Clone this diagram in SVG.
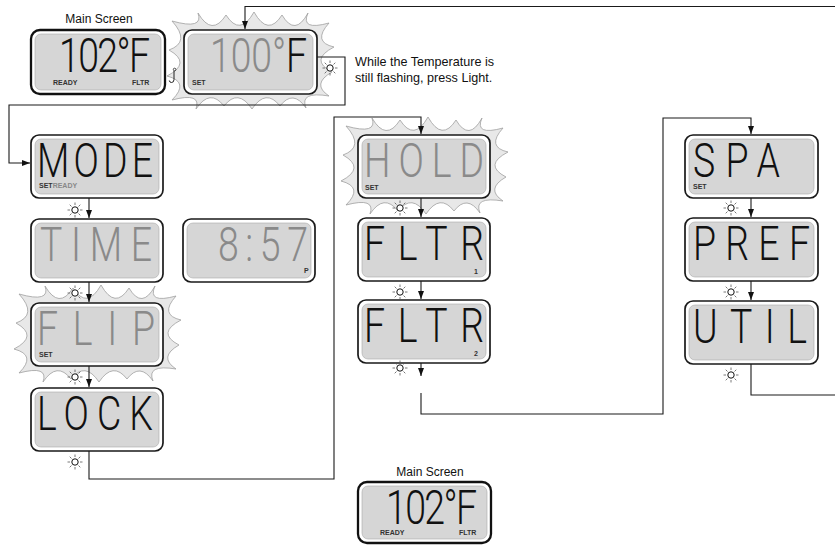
<svg xmlns="http://www.w3.org/2000/svg" xmlns:xlink="http://www.w3.org/1999/xlink" width="835" height="545" viewBox="0 0 835 545">
<style>
.lcd-o{fill:#fff;stroke:#1a1a1a;stroke-width:1.7}
.lcd-t{fill:#fff;stroke:#111;stroke-width:2.3}
.lcd-i{fill:#d6d6d6;stroke:#aaa;stroke-width:0.6}
.seg{font-family:Roboto,Lato,'Open Sans','DejaVu Sans',sans-serif;font-weight:300;font-size:48px;fill:#111}
.dim{fill:#8a8a8a}
.tag{font-family:'Liberation Sans',Arial,sans-serif;font-weight:bold;font-size:7px;fill:#333}
.lbl{font-family:'Liberation Sans',Arial,sans-serif;font-size:12px;fill:#111}
.note{font-family:'Liberation Sans',Arial,sans-serif;font-size:12.6px;fill:#111}
.burst{fill:#e8e8e8;stroke:#a0a0a0;stroke-width:0.8}
.wire{fill:none;stroke:#1a1a1a;stroke-width:1.1}
</style>
<defs>
<marker id="ah" markerUnits="userSpaceOnUse" markerWidth="8" markerHeight="6" refX="8" refY="3" orient="auto">
<path d="M0,0 L8,3 L0,6 z" fill="#111"/>
</marker>
<path id="burst" class="burst" d="M-12,-9 Q20,0 14,-17 Q28,7 42,-15 Q56,7 70,-18 Q84,7 98,-15 Q111,7 124,-17 Q116,1 145,-7 Q128,12 150,17 Q125,30 148,42 Q127,54 145,66 Q115,61 122,78 Q109,59 96,76 Q82,58 68,79 Q54,58 40,76 Q26,58 12,79 Q18,62 -12,70 Q6,52 -17,46 Q8,33 -15,20 Q7,12 -12,-9 Z"/>
<g id="sun">
<circle r="3.2" fill="#fff" stroke="#111" stroke-width="1"/>
<g stroke="#555" stroke-width="0.8">
<line x1="0" y1="-5" x2="0" y2="-7.5"/><line x1="0" y1="5" x2="0" y2="7.5"/>
<line x1="5" y1="0" x2="7.5" y2="0"/><line x1="-5" y1="0" x2="-7.5" y2="0"/>
<line x1="3.5" y1="-3.5" x2="5.3" y2="-5.3"/><line x1="-3.5" y1="-3.5" x2="-5.3" y2="-5.3"/>
<line x1="3.5" y1="3.5" x2="5.3" y2="5.3"/><line x1="-3.5" y1="3.5" x2="-5.3" y2="5.3"/>
</g>
</g>
</defs>

<g id="n-main-top" transform="translate(31,30)">
<text class="lbl" x="68" y="-7" text-anchor="middle">Main Screen</text>
<rect class="lcd-t" width="134" height="64" rx="9"/>
<rect class="lcd-i" x="4" y="4" width="126" height="56" rx="6"/>
<text class="seg" transform="translate(28,42) scale(0.78,1)" textLength="116.7" lengthAdjust="spacing">102°F</text>
<text class="tag" x="22" y="55">READY</text>
<text class="tag" x="101" y="55">FLTR</text>
</g>

<g id="n-temp-set" transform="translate(184,30)">
<use xlink:href="#burst"/>
<rect class="lcd-o" width="133" height="64" rx="8"/>
<rect class="lcd-i" x="4" y="4" width="125" height="56" rx="6"/>
<text class="seg" transform="translate(26,42) scale(0.78,1)" textLength="124.4" lengthAdjust="spacing"><tspan class="dim">100°</tspan>F</text>
<text class="tag" x="8" y="55">SET</text>
</g>

<g id="n-mode" transform="translate(31,135)">
<rect class="lcd-o" width="132" height="63" rx="8"/>
<rect class="lcd-i" x="4" y="4" width="124" height="55" rx="6"/>
<text class="seg" transform="translate(6,42) scale(0.78,1)" textLength="148.7" lengthAdjust="spacing">MODE</text>
<text class="tag" x="8" y="53">SET<tspan fill="#888">READY</tspan></text>
</g>

<g id="n-time" transform="translate(31,219)">
<rect class="lcd-o" width="132" height="63" rx="8"/>
<rect class="lcd-i" x="4" y="4" width="124" height="55" rx="6"/>
<text class="seg dim" transform="translate(9,42) scale(0.78,1)" textLength="143.6" lengthAdjust="spacing">TIME</text>
</g>

<g id="n-clock" transform="translate(183,219)">
<rect class="lcd-o" width="132" height="63" rx="8"/>
<rect class="lcd-i" x="4" y="4" width="124" height="55" rx="6"/>
<text class="seg dim" transform="translate(35,42) scale(0.78,1)" textLength="115.4" lengthAdjust="spacing">8:57</text>
<text class="tag" x="121" y="54" font-size="6" fill="#888">P</text>
</g>

<g id="n-flip" transform="translate(31,303)">
<use xlink:href="#burst"/>
<rect class="lcd-o" width="132" height="63" rx="8"/>
<rect class="lcd-i" x="4" y="4" width="124" height="55" rx="6"/>
<text class="seg dim" transform="translate(6,42) scale(0.78,1)" textLength="151.3" lengthAdjust="spacing">FLIP</text>
<text class="tag" x="8" y="54">SET</text>
</g>

<g id="n-lock" transform="translate(31,388)">
<rect class="lcd-o" width="132" height="63" rx="8"/>
<rect class="lcd-i" x="4" y="4" width="124" height="55" rx="6"/>
<text class="seg" transform="translate(6,42) scale(0.78,1)" textLength="148.7" lengthAdjust="spacing">LOCK</text>
</g>

<g id="n-hold" transform="translate(358,135)">
<use xlink:href="#burst"/>
<rect class="lcd-o" width="132" height="63" rx="8"/>
<rect class="lcd-i" x="4" y="4" width="124" height="55" rx="6"/>
<text class="seg dim" transform="translate(6,42) scale(0.78,1)" textLength="153.8" lengthAdjust="spacing">HOLD</text>
<text class="tag" x="7" y="55">SET</text>
</g>

<g id="n-fltr1" transform="translate(358,218)">
<rect class="lcd-o" width="132" height="63" rx="8"/>
<rect class="lcd-i" x="4" y="4" width="124" height="55" rx="6"/>
<text class="seg" transform="translate(6,42) scale(0.78,1)" textLength="153.8" lengthAdjust="spacing">FLTR</text>
<text class="tag" x="116" y="56" font-size="6">1</text>
</g>

<g id="n-fltr2" transform="translate(358,300)">
<rect class="lcd-o" width="132" height="63" rx="8"/>
<rect class="lcd-i" x="4" y="4" width="124" height="55" rx="6"/>
<text class="seg" transform="translate(6,42) scale(0.78,1)" textLength="153.8" lengthAdjust="spacing">FLTR</text>
<text class="tag" x="116" y="56" font-size="6">2</text>
</g>

<g id="n-spa" transform="translate(685,135)">
<rect class="lcd-o" width="133" height="63" rx="8"/>
<rect class="lcd-i" x="4" y="4" width="125" height="55" rx="6"/>
<text class="seg" transform="translate(8,42) scale(0.78,1)" textLength="111.5" lengthAdjust="spacing">SPA</text>
<text class="tag" x="8" y="54">SET</text>
</g>

<g id="n-pref" transform="translate(685,218)">
<rect class="lcd-o" width="133" height="63" rx="8"/>
<rect class="lcd-i" x="4" y="4" width="125" height="55" rx="6"/>
<text class="seg" transform="translate(8,42) scale(0.78,1)" textLength="150" lengthAdjust="spacing">PREF</text>
</g>

<g id="n-util" transform="translate(685,301)">
<rect class="lcd-o" width="133" height="63" rx="8"/>
<rect class="lcd-i" x="4" y="4" width="125" height="55" rx="6"/>
<text class="seg" transform="translate(8,42) scale(0.78,1)" textLength="146.2" lengthAdjust="spacing">UTIL</text>
</g>

<g id="n-main-bottom" transform="translate(358,482)">
<text class="lbl" x="72" y="-6" text-anchor="middle">Main Screen</text>
<rect class="lcd-t" width="133" height="61" rx="9"/>
<rect class="lcd-i" x="4" y="4" width="125" height="53" rx="6"/>
<text class="seg" transform="translate(28,42) scale(0.78,1)" textLength="116.7" lengthAdjust="spacing">102°F</text>
<text class="tag" x="22" y="53">READY</text>
<text class="tag" x="101" y="53">FLTR</text>
</g>

<g id="connectors">
<path class="wire" d="M835,6.5 H245 V29" marker-end="url(#ah)"/>
<path class="wire" d="M317,57 H345 V105 H9 V163 H30" marker-end="url(#ah)"/>
<path class="wire" d="M89,198 V218" marker-end="url(#ah)"/>
<path class="wire" d="M89,282 V302" marker-end="url(#ah)"/>
<path class="wire" d="M89,366 V387" marker-end="url(#ah)"/>
<path class="wire" d="M89,451 V479 H334 V117 H421 V134" marker-end="url(#ah)"/>
<path class="wire" d="M421,198 V217" marker-end="url(#ah)"/>
<path class="wire" d="M421,281 V299" marker-end="url(#ah)"/>
<path class="wire" d="M421,363 V376" marker-end="url(#ah)"/>
<path class="wire" d="M421,393 V414 H663 V118 H751 V134" marker-end="url(#ah)"/>
<path class="wire" d="M751,198 V217" marker-end="url(#ah)"/>
<path class="wire" d="M751,281 V300" marker-end="url(#ah)"/>
<path class="wire" d="M751,364 V395 H835"/>
</g>

<g id="buttons">
<path d="M174,71 V79.5 Q174,82.5 171.5,82.5 Q169.5,82.5 169.3,80.5" fill="none" stroke="#222" stroke-width="1"/>
<circle cx="174.6" cy="69.5" r="1.3" fill="none" stroke="#222" stroke-width="0.8"/>
<use xlink:href="#sun" x="330" y="68"/>
<use xlink:href="#sun" x="75" y="210"/>
<use xlink:href="#sun" x="75" y="293"/>
<use xlink:href="#sun" x="75" y="377"/>
<use xlink:href="#sun" x="75" y="462"/>
<use xlink:href="#sun" x="400" y="208"/>
<use xlink:href="#sun" x="400" y="292"/>
<use xlink:href="#sun" x="400" y="368"/>
<use xlink:href="#sun" x="731" y="208"/>
<use xlink:href="#sun" x="731" y="292"/>
<use xlink:href="#sun" x="731" y="375"/>
</g>

<g id="note">
<text class="note" x="355" y="66">While the Temperature is</text>
<text class="note" x="355" y="82">still flashing, press Light.</text>
</g>
</svg>
